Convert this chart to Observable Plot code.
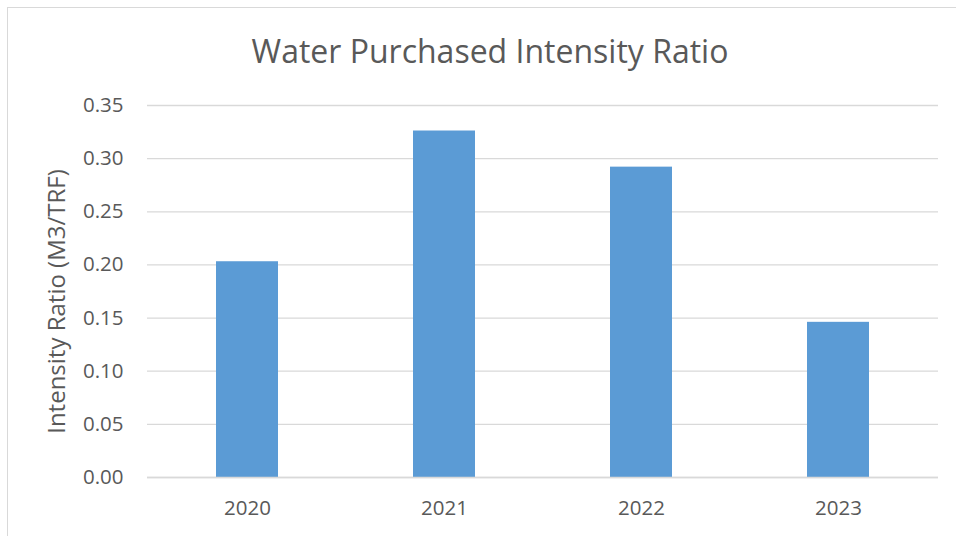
<!DOCTYPE html>
<html>
<head>
<meta charset="utf-8">
<script src="https://cdn.jsdelivr.net/npm/d3@7"></script>
<script src="https://cdn.jsdelivr.net/npm/@observablehq/plot@0.6"></script>
<style>
  html, body { margin: 0; padding: 0; background: #fff; }
  #wrap { position: relative; width: 956px; height: 536px; overflow: hidden; }
  #border { position: absolute; left: 7px; top: 7px; width: 980px; height: 560px; border: 1px solid #d9d9d9; box-sizing: border-box; pointer-events: none; }
  svg { font-family: "Open Sans", sans-serif; }
</style>
</head>
<body>
<div id="wrap"><div id="border"></div></div>
<script>
const title = "Water Purchased Intensity Ratio";
const yLabel = "Intensity Ratio (M3/TRF)";
const years = ["2020", "2021", "2022", "2023"];
const values = [0.203, 0.326, 0.292, 0.146];
const yTicks = [0, 0.05, 0.10, 0.15, 0.20, 0.25, 0.30, 0.35];

const data = years.map((y, i) => ({year: y, value: values[i]}));
const textColor = "#595959";

const chart = Plot.plot({
  width: 956,
  height: 536,
  marginLeft: 147,
  marginRight: 18,
  marginTop: 105,
  marginBottom: 59,
  style: {fontFamily: "'Open Sans', sans-serif", color: textColor, background: "transparent"},
  x: {domain: years, paddingInner: 0.686, paddingOuter: 0.343, label: null},
  y: {domain: [0, 0.35], label: null},
  marks: [
    Plot.gridY(yTicks, {stroke: "#d9d9d9", strokeOpacity: 1, strokeWidth: 1.3}),
    Plot.barY(data, {x: "year", y: "value", fill: "#5b9bd5"}),
    Plot.ruleY([0], {stroke: "#d9d9d9", strokeWidth: 1.3}),
    Plot.axisY(yTicks, {tickSize: 0, tickPadding: 24, tickFormat: d3.format(".2f"), fontSize: 20.5, fill: textColor, label: null}),
    Plot.axisX({tickSize: 0, tickPadding: 23, fontSize: 20.5, fill: textColor, label: null}),
    Plot.text([yLabel], {text: d => d, frameAnchor: "left", textAnchor: "middle", lineAnchor: "middle", rotate: -90, dx: -90, dy: 10, fontSize: 24, fill: textColor}),
    Plot.text([title], {text: d => d, frameAnchor: "top", textAnchor: "middle", lineAnchor: "bottom", dx: -53, dy: -43, fontSize: 32, fill: textColor})
  ]
});
document.getElementById("wrap").appendChild(chart);
chart.style.position = "absolute";
chart.style.left = "0";
chart.style.top = "0";
</script>
</body>
</html>
